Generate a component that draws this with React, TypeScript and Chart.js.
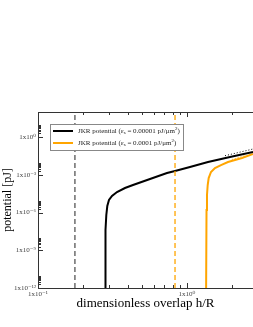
import React, { useEffect, useRef } from "react";
import { Chart, registerables } from "chart.js";
Chart.register(...registerables);

// ---- data ----
const blackX = [0.2817, 0.2838, 0.2874, 0.2918, 0.2995, 0.3138, 0.339, 0.3835, 0.4341, 0.5646, 0.734, 0.8308, 1.047, 1.383, 1.944, 2.773];
const blackY = [1e-14, 4.1e-8, 6.4e-7, 3.3e-6, 1.0e-5, 2.1e-5, 4.3e-5, 9.0e-5, 1.56e-4, 4.7e-4, 1.4e-3, 2.02e-3, 4.2e-3, 1.05e-2, 2.63e-2, 6.6e-2];
const orangeX = [1.341, 1.352, 1.362, 1.377, 1.398, 1.449, 1.541, 1.691, 1.884, 2.339, 2.773];
const orangeY = [1e-14, 1.6e-6, 2.5e-5, 1.55e-4, 5.6e-4, 1.69e-3, 3.5e-3, 6.0e-3, 1.05e-2, 2.19e-2, 4.57e-2];
const blackFitX = [1.8, 2.773];
const blackFitY = [3.33e-2, 0.114];
const orangeFitX = [2.0, 2.45];
const orangeFitY = [1.66e-2, 3.47e-2];
const blackCutoff = 0.177;
const orangeCutoff = 0.831;

const xMin = 0.1;
const xMax = 2.773;
const yMin = 1e-12;
const yMax = 100;

const xMajorTicks = [0.1, 1];
const xTickLabels = ["1x10\u207B\u00B9", "1x10\u2070"];
const xMinorTicks = [0.2, 0.3, 0.4, 0.5, 0.6, 0.7, 0.8, 0.9, 2];
const yMajorTicks = [1e-12, 1e-9, 1e-6, 1e-3, 1];
const yTickLabels = ["1x10\u207B\u00B9\u00B2", "1x10\u207B\u2079", "1x10\u207B\u2076", "1x10\u207B\u00B3", "1x10\u2070"];
const yMinorMultipliers = [2, 3, 4, 5, 6, 7, 8, 9];

const legendPrefix = "JKR potential (\u03B5";
const legendSub = "s";
const legendMid = [" = 0.00001 pJ/\u03BCm", " = 0.0001 pJ/\u03BCm"];
const legendSup = "2";
const legendEnd = ")";

const xTitle = "dimensionless overlap h/R";
const yTitle = "potential [pJ]";

const BLACK = "#000000";
const ORANGE = "#FFA500";
const AXIS = "#333333";
const SERIF = "'Liberation Serif', 'DejaVu Serif', serif";

const pts = (xs: number[], ys: number[]) => xs.map((x, i) => ({ x, y: ys[i] }));

const framePlugin = {
  id: "frame",
  afterDatasetsDraw(chart: any) {
    const { ctx, chartArea, scales } = chart;
    const { left, right, top, bottom } = chartArea;
    const xs = scales.x;
    const ys = scales.y;
    ctx.save();
    ctx.strokeStyle = AXIS;
    ctx.lineWidth = 1;
    ctx.beginPath();
    ctx.moveTo(left + 0.5, top);
    ctx.lineTo(left + 0.5, bottom);
    ctx.moveTo(left, bottom + 0.5);
    ctx.lineTo(right, bottom + 0.5);
    ctx.moveTo(left, top + 0.5);
    ctx.lineTo(right, top + 0.5);
    ctx.stroke();
    // x ticks (bottom & top, inward)
    const xTick = (v: number, len: number) => {
      const p = Math.round(xs.getPixelForValue(v)) + 0.5;
      ctx.moveTo(p, bottom);
      ctx.lineTo(p, bottom - len);
      ctx.moveTo(p, top);
      ctx.lineTo(p, top + len);
    };
    ctx.beginPath();
    xMajorTicks.forEach((v) => xTick(v, 5));
    xMinorTicks.forEach((v) => xTick(v, 3));
    // y ticks (left, inward)
    const yTick = (v: number, len: number) => {
      const p = Math.round(ys.getPixelForValue(v)) + 0.5;
      if (p < top || p > bottom + 1) return;
      ctx.moveTo(left, p);
      ctx.lineTo(left + len, p);
    };
    yMajorTicks.forEach((v) => {
      yTick(v, 5);
      yMinorMultipliers.forEach((k) => yTick(v * k, 3));
    });
    ctx.stroke();

    // legend
    const bx = 50, by = 124, bw = 133, bh = 26;
    ctx.fillStyle = "#ffffff";
    ctx.fillRect(bx, by, bw, bh);
    ctx.strokeStyle = "#888888";
    ctx.strokeRect(bx + 0.5, by + 0.5, bw, bh);
    const rows = [
      { color: BLACK, y: 131 },
      { color: ORANGE, y: 143 },
    ];
    rows.forEach((r, i) => {
      ctx.strokeStyle = r.color;
      ctx.lineWidth = 2;
      ctx.beginPath();
      ctx.moveTo(53, r.y);
      ctx.lineTo(73, r.y);
      ctx.stroke();
      ctx.fillStyle = "#222222";
      ctx.textBaseline = "middle";
      ctx.textAlign = "left";
      let x = 78;
      ctx.font = `7px ${SERIF}`;
      ctx.fillText(legendPrefix, x, r.y);
      x += ctx.measureText(legendPrefix).width;
      ctx.font = `5px ${SERIF}`;
      ctx.fillText(legendSub, x, r.y + 2);
      x += ctx.measureText(legendSub).width;
      ctx.font = `7px ${SERIF}`;
      ctx.fillText(legendMid[i], x, r.y);
      x += ctx.measureText(legendMid[i]).width;
      ctx.font = `5px ${SERIF}`;
      ctx.fillText(legendSup, x, r.y - 2);
      x += ctx.measureText(legendSup).width;
      ctx.font = `7px ${SERIF}`;
      ctx.fillText(legendEnd, x, r.y);
    });
    ctx.restore();
  },
};

export default function App() {
  const ref = useRef<HTMLCanvasElement | null>(null);
  useEffect(() => {
    if (!ref.current) return;
    const chart = new Chart(ref.current, {
      type: "scatter",
      data: {
        datasets: [
          {
            data: pts([blackCutoff, blackCutoff], [yMin, yMax]),
            showLine: true,
            borderColor: "#222222",
            borderWidth: 1,
            borderDash: [5, 3],
            pointRadius: 0,
          },
          {
            data: pts([orangeCutoff, orangeCutoff], [yMin, yMax]),
            showLine: true,
            borderColor: ORANGE,
            borderWidth: 1.3,
            borderDash: [5, 3],
            pointRadius: 0,
          },
          {
            data: pts(blackFitX, blackFitY),
            showLine: true,
            borderColor: BLACK,
            borderWidth: 1,
            borderDash: [1, 2],
            pointRadius: 0,
          },
          {
            data: pts(orangeFitX, orangeFitY),
            showLine: true,
            borderColor: ORANGE,
            borderWidth: 1,
            borderDash: [1, 2],
            pointRadius: 0,
          },
          {
            data: pts(blackX, blackY),
            showLine: true,
            borderColor: BLACK,
            borderWidth: 2,
            pointRadius: 0,
            tension: 0,
          },
          {
            data: pts(orangeX, orangeY),
            showLine: true,
            borderColor: ORANGE,
            borderWidth: 2,
            pointRadius: 0,
            tension: 0,
          },
        ],
      },
      options: {
        responsive: false,
        animation: false,
        devicePixelRatio: 1,
        layout: { padding: { top: 112, right: 0, bottom: 16, left: 0 } },
        plugins: { legend: { display: false }, tooltip: { enabled: false } },
        scales: {
          x: {
            type: "logarithmic",
            min: xMin,
            max: xMax,
            grid: { display: false, drawTicks: false },
            border: { display: false },
            afterBuildTicks: (s: any) => {
              s.ticks = xMajorTicks.map((v) => ({ value: v }));
            },
            afterFit: (s: any) => {
              s.height = 23;
            },
            ticks: {
              autoSkip: false,
              maxRotation: 0,
              padding: 2,
              color: "#444444",
              font: { family: SERIF, size: 7 },
              callback: (v: any) => {
                const i = xMajorTicks.findIndex((t) => Math.abs(t - v) / t < 1e-6);
                return i >= 0 ? xTickLabels[i] : "";
              },
            },
            title: {
              display: true,
              text: xTitle,
              color: "#000000",
              font: { family: SERIF, size: 13 },
              padding: { top: 0, bottom: 0 },
            },
          },
          y: {
            type: "logarithmic",
            min: yMin,
            max: yMax,
            grid: { display: false, drawTicks: false },
            border: { display: false },
            afterBuildTicks: (s: any) => {
              s.ticks = yMajorTicks.map((v) => ({ value: v }));
            },
            afterFit: (s: any) => {
              s.width = 38;
            },
            ticks: {
              autoSkip: false,
              padding: 2,
              color: "#444444",
              font: { family: SERIF, size: 7 },
              callback: (v: any) => {
                const i = yMajorTicks.findIndex((t) => Math.abs(t - v) / t < 1e-6);
                return i >= 0 ? yTickLabels[i] : "";
              },
            },
            title: {
              display: true,
              text: yTitle,
              color: "#000000",
              font: { family: SERIF, size: 12 },
              padding: { top: 1, bottom: 0 },
            },
          },
        },
      },
      plugins: [framePlugin],
    } as any);
    return () => chart.destroy();
  }, []);
  return (
    <div style={{ position: "absolute", left: 0, top: 0, width: 253, height: 327, background: "#fff" }}>
      <canvas ref={ref} width={253} height={327} style={{ display: "block" }} />
    </div>
  );
}
